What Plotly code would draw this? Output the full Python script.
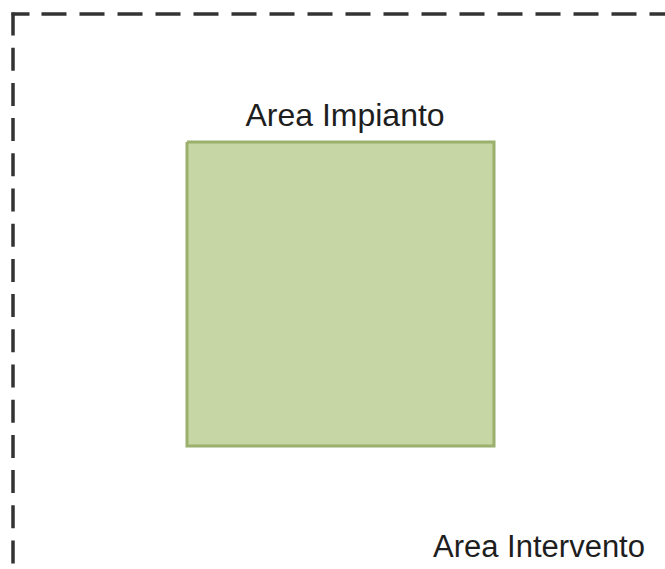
import plotly.graph_objects as go

# Diagram elements (pixel-space coordinates, y grows downward)
boundary_left_x = [13, 13]
boundary_left_y = [12.5, 569]
boundary_top_x = [11.5, 665]
boundary_top_y = [14, 14]

plant_x = [187, 494, 494, 187, 187]
plant_y = [142, 142, 446, 446, 142]

labels = ["Area Impianto", "Area Intervento"]
label_x = [345, 539]
label_y = [118, 549]
label_sizes = [32, 31]

top_dash = "18px,12px," + ",".join(["25px,13px"] * 18)

fig = go.Figure()

fig.add_trace(go.Scatter(
    x=plant_x, y=plant_y, mode="lines", fill="toself",
    fillcolor="#c6d6a4", line=dict(color="#9bb06c", width=3),
    hoverinfo="skip", showlegend=False))

fig.add_trace(go.Scatter(
    x=boundary_left_x, y=boundary_left_y, mode="lines",
    line=dict(color="#333333", width=3.5, dash="23px,12.2px"),
    hoverinfo="skip", showlegend=False))

fig.add_trace(go.Scatter(
    x=boundary_top_x, y=boundary_top_y, mode="lines",
    line=dict(color="#333333", width=3.5, dash=top_dash),
    hoverinfo="skip", showlegend=False))

fig.add_trace(go.Scatter(
    x=label_x, y=label_y, mode="text", text=labels,
    textposition="middle center",
    textfont=dict(family="Liberation Sans, Arial", size=label_sizes, color="#1e1e1e"),
    hoverinfo="skip", showlegend=False))

fig.update_layout(
    width=665, height=569,
    margin=dict(l=0, r=0, t=0, b=0),
    paper_bgcolor="white", plot_bgcolor="white",
    xaxis=dict(range=[0, 665], visible=False, fixedrange=True),
    yaxis=dict(range=[569, 0], visible=False, fixedrange=True),
)

fig.write_html(
    "out.html",
    config={"displayModeBar": False},
    post_script="document.body.style.margin='0';document.body.style.overflow='hidden';",
)
